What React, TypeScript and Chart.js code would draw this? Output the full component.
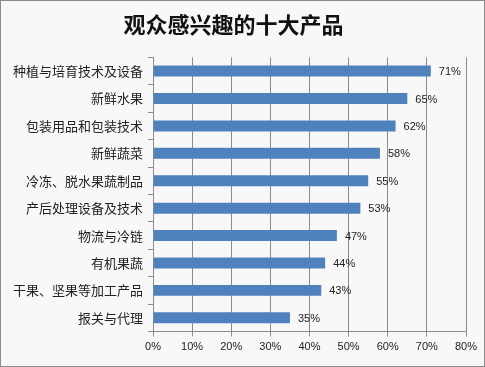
import React, { useEffect, useRef } from "react";
import { Chart, registerables } from "chart.js";

Chart.register(...registerables);

const titleText = "观众感兴趣的十大产品";
const categories = [
  "种植与培育技术及设备",
  "新鲜水果",
  "包装用品和包装技术",
  "新鲜蔬菜",
  "冷冻、脱水果蔬制品",
  "产后处理设备及技术",
  "物流与冷链",
  "有机果蔬",
  "干果、坚果等加工产品",
  "报关与代理",
];
const values = [71, 65, 62, 58, 55, 53, 47, 44, 43, 35];
const xMax = 80;
const xStep = 10;

const valueLabels = {
  id: "valueLabels",
  afterDatasetsDraw(chart: any) {
    const ctx = chart.ctx;
    const meta = chart.getDatasetMeta(0);
    ctx.save();
    ctx.font = "11px 'Liberation Sans', 'Noto Sans', sans-serif";
    ctx.fillStyle = "#222";
    ctx.textAlign = "left";
    ctx.textBaseline = "middle";
    meta.data.forEach((bar: any, i: number) => {
      ctx.fillText(values[i] + "%", bar.x + 8, bar.y + 1);
    });
    ctx.restore();
  },
};

export default function App() {
  const ref = useRef<HTMLCanvasElement>(null);
  useEffect(() => {
    const chart = new Chart(ref.current!, {
      type: "bar",
      data: {
        labels: categories,
        datasets: [
          {
            data: values,
            backgroundColor: "#4f81bd",
            borderWidth: 0,
            categoryPercentage: 1,
            barPercentage: 0.4,
          },
        ],
      },
      options: {
        indexAxis: "y",
        animation: false,
        responsive: false,
        maintainAspectRatio: false,
        layout: { padding: { left: 0, right: 18, top: 0, bottom: 0 } },
        plugins: {
          legend: { display: false },
          tooltip: { enabled: false },
          title: {
            display: true,
            text: titleText,
            color: "#111",
            font: { size: 22, weight: "bold", family: "'Noto Sans CJK SC', sans-serif", lineHeight: 1.2 },
            padding: { top: 10, bottom: 20 },
          },
        },
        scales: {
          x: {
            min: 0,
            max: xMax,
            ticks: {
              stepSize: xStep,
              callback: (v: any) => v + "%",
              color: "#222",
              font: { size: 11, family: "'Liberation Sans', 'Noto Sans', sans-serif" },
              padding: 4,
            },
            grid: { color: "#8c8c8c", tickLength: 5, drawTicks: true },
            border: { display: true, color: "#8c8c8c" },
            afterFit: (s: any) => {
              s.height = 34.5;
            },
          },
          y: {
            ticks: {
              color: "#222",
              font: { size: 13, family: "'Noto Sans CJK SC', sans-serif" },
              padding: 5,
            },
            grid: { drawOnChartArea: false, drawTicks: true, tickLength: 5, color: "#8c8c8c", offset: true },
            border: { display: true, color: "#8c8c8c" },
            afterFit: (s: any) => {
              s.width = 152;
            },
          },
        },
      },
      plugins: [valueLabels],
    });
    return () => chart.destroy();
  }, []);
  return (
    <div
      style={{
        position: "fixed",
        left: 0,
        top: 0,
        width: 485,
        height: 367,
        boxSizing: "border-box",
        border: "1px solid #8c8c8c",
        background: "#f8f8f8",
      }}
    >
      <canvas ref={ref} width={483} height={365} style={{ display: "block" }} />
    </div>
  );
}
